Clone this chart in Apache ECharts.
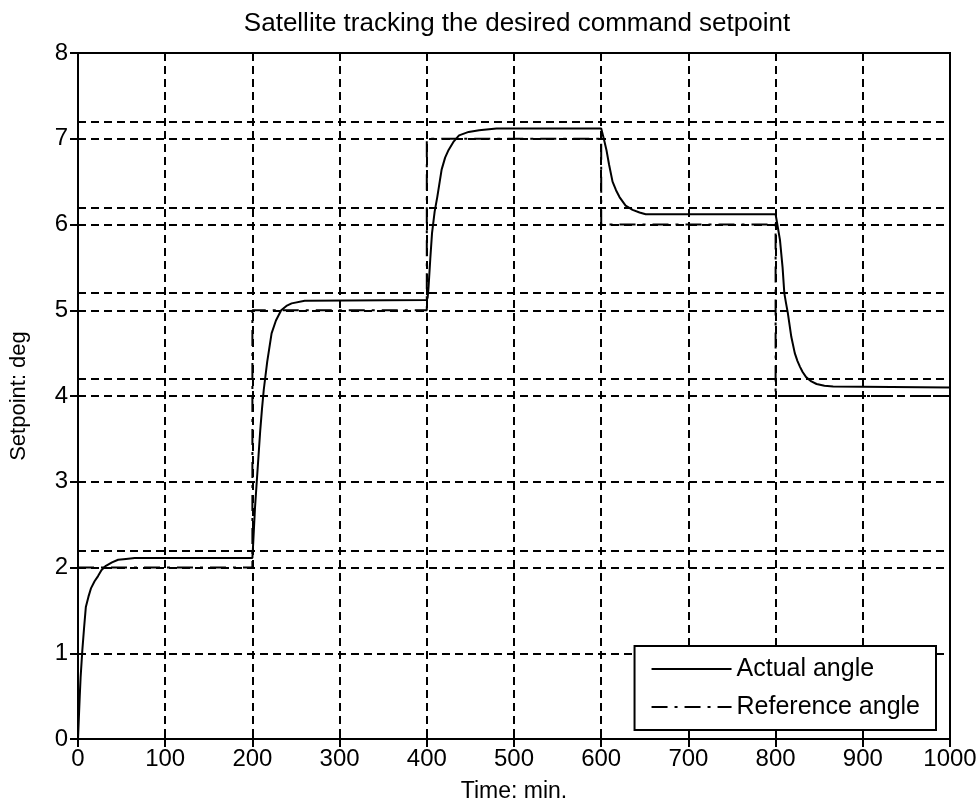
<!DOCTYPE html>
<html><head><meta charset="utf-8">
<script src="https://cdn.jsdelivr.net/npm/echarts@6/dist/echarts.min.js"></script>
<style>html,body{margin:0;padding:0;background:#fff}#c{width:980px;height:812px}</style>
</head><body><div id="c"></div>
<script>
var titleText = 'Satellite tracking the desired command setpoint';
var xName = 'Time: min.';
var yName = 'Setpoint: deg';
var seriesNames = ['Actual angle', 'Reference angle'];
var actualT = [0, 1, 2, 3, 5, 7, 9, 12, 15, 19, 23, 27, 32, 39, 46, 55, 65, 200,
  201, 203, 205, 207, 209, 211, 213, 217, 222, 227, 233, 239, 245, 260, 400,
  401, 402, 404, 406, 409, 412, 417, 421, 425, 431, 437, 448, 460, 480, 600,
  601, 603, 606, 609, 613, 617, 621, 628, 636, 644, 651, 800,
  802, 805, 808, 810, 812, 814, 818, 822, 825, 828, 831, 835, 841, 847, 856, 866, 1000];
var actualV = [0, 0.25, 0.5, 0.72, 1.04, 1.3, 1.54, 1.66, 1.76, 1.84, 1.9, 1.97, 2.02, 2.06, 2.09, 2.1, 2.11, 2.11,
  2.3, 2.7, 3.0, 3.3, 3.6, 3.85, 4.07, 4.4, 4.73, 4.88, 5.0, 5.05, 5.08, 5.11, 5.12,
  5.15, 5.27, 5.6, 5.9, 6.15, 6.32, 6.64, 6.78, 6.87, 6.97, 7.04, 7.08, 7.1, 7.12, 7.12,
  7.1, 7.0, 6.87, 6.7, 6.5, 6.4, 6.32, 6.22, 6.17, 6.14, 6.12, 6.12,
  6.0, 5.82, 5.5, 5.2, 5.08, 4.97, 4.69, 4.5, 4.41, 4.34, 4.28, 4.22, 4.17, 4.14, 4.12, 4.11, 4.1];
var refT = [0, 200, 200, 400, 400, 600, 600, 800, 800, 1000];
var refV = [2, 2, 5, 5, 7, 7, 6, 6, 4, 4];
var extraGridY = [2.2, 4.2, 5.2, 6.2, 7.2];

var FONT = 'Liberation Sans, Arial, sans-serif';
var gridDash = { color: '#000', width: 2, type: [8, 5] };
function pairs(a, b) { return a.map(function (v, i) { return [v, b[i]]; }); }

var chart = echarts.init(document.getElementById('c'), null, { renderer: 'canvas' });
chart.setOption({
  animation: false,
  backgroundColor: '#fff',
  title: {
    text: titleText, left: 512, top: 6, textAlign: 'center',
    textStyle: { fontFamily: FONT, fontSize: 26, fontWeight: 'normal', color: '#000' }
  },
  grid: { left: 78, right: 30, top: 53, bottom: 73, show: true, borderColor: '#000', borderWidth: 2, backgroundColor: 'transparent' },
  legend: {
    orient: 'vertical', right: 44, bottom: 82,
    data: seriesNames,
    backgroundColor: '#fff', borderColor: '#000', borderWidth: 2, borderRadius: 0,
    padding: [9, 16, 9, 16], itemGap: 10, itemWidth: 80, itemHeight: 14,
    itemStyle: { opacity: 0 },
    textStyle: { fontFamily: FONT, fontSize: 25, color: '#000', lineHeight: 28 }
  },
  xAxis: [{
    type: 'value', min: 0, max: 1000, interval: 100,
    name: xName, nameLocation: 'middle', nameGap: 41,
    nameTextStyle: { fontFamily: FONT, fontSize: 23, color: '#000' },
    axisLine: { show: true, onZero: false, lineStyle: { color: '#000', width: 2 } },
    axisTick: { show: true, inside: true, length: 8, lineStyle: { color: '#000', width: 2 } },
    axisLabel: { fontFamily: FONT, fontSize: 24, color: '#000', margin: 8, formatter: function (v) { return String(v); } },
    splitLine: { show: true, lineStyle: gridDash }
  }, {
    type: 'value', position: 'top', min: 0, max: 1000, interval: 100,
    axisLine: { show: false }, axisLabel: { show: false }, splitLine: { show: false },
    axisTick: { show: true, inside: true, length: 8, lineStyle: { color: '#000', width: 2 } }
  }],
  yAxis: [{
    type: 'value', min: 0, max: 8, interval: 1,
    name: yName, nameLocation: 'middle', nameGap: 48,
    nameTextStyle: { fontFamily: FONT, fontSize: 22, color: '#000' },
    axisLine: { show: true, onZero: false, lineStyle: { color: '#000', width: 2 } },
    axisTick: { show: true, inside: true, length: 8, lineStyle: { color: '#000', width: 2 } },
    axisLabel: { fontFamily: FONT, fontSize: 24, color: '#000', margin: 10 },
    splitLine: { show: true, lineStyle: gridDash }
  }, {
    type: 'value', position: 'right', min: 0, max: 8, interval: 1,
    axisLine: { show: false }, axisLabel: { show: false }, splitLine: { show: false },
    axisTick: { show: true, inside: true, length: 8, lineStyle: { color: '#000', width: 2 } }
  }],
  series: [{
    name: seriesNames[0], type: 'line', symbol: 'none', showSymbol: false,
    data: pairs(actualT, actualV), smooth: false,
    lineStyle: { color: '#000', width: 2, type: 'solid' }, itemStyle: { color: '#000' }, z: 4
  }, {
    name: seriesNames[1], type: 'line', symbol: 'none', showSymbol: false,
    data: pairs(refT, refV),
    lineStyle: { color: '#000', width: 2, type: [16, 7, 3, 7] }, itemStyle: { color: '#000' }, z: 3,
    markLine: {
      silent: true, symbol: 'none', label: { show: false },
      lineStyle: gridDash,
      data: extraGridY.map(function (v) { return { yAxis: v }; })
    }
  }]
});
</script></body></html>
